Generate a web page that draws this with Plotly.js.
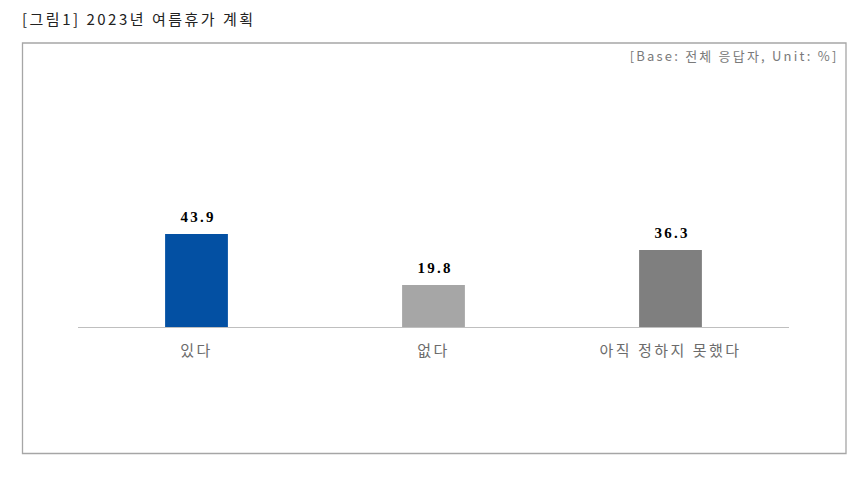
<!DOCTYPE html>
<html>
<head>
<meta charset="utf-8">
<script src="https://cdn.plot.ly/plotly-3.0.1.min.js"></script>
<style>
body{margin:0;background:#fff;}
#chart .gtitle{letter-spacing:2.5px;}
#chart .xtick text{letter-spacing:2.5px;}
#chart .annotation-text{letter-spacing:2.2px;}
</style>
</head>
<body>
<div id="chart" style="width:865px;height:479px;"></div>
<script>
// 2023 summer vacation plan survey
var categories = ['있다', '없다', '아직 정하지 못했다'];
var shares = [43.9, 19.8, 36.3];

var barColors = ['#0350A3', '#A6A6A6', '#7F7F7F'];

var plan_bars = {
  x: categories,
  y: shares,
  type: 'bar',
  marker: {color: barColors},
  hoverinfo: 'skip'
};

// value labels sit a bit higher than plotly's outside text, so use annotations
var valueLabels = categories.map(function(c, i){
  return {
    x: c, y: shares[i],
    xref: 'x', yref: 'y',
    text: shares[i].toFixed(1),
    showarrow: false,
    yanchor: 'bottom',
    yshift: 7,
    xshift: 1,
    font: {family: 'Liberation Serif, serif', size: 15, color: '#000', weight: 'bold'}
  };
});

var layout = {
  width: 865,
  height: 479,
  margin: {l: 78, r: 76, t: 115, b: 152},
  paper_bgcolor: '#fff',
  plot_bgcolor: '#fff',
  bargap: 0.735,
  showlegend: false,
  title: {
    text: '[그림1] 2023년 여름휴가 계획',
    xref: 'container', yref: 'container',
    x: 22 / 865, xanchor: 'left',
    y: 1 - 20 / 479, yanchor: 'middle',
    font: {family: 'Noto Sans CJK KR, sans-serif', size: 15, color: '#222'}
  },
  xaxis: {
    showline: true,
    linecolor: '#BFBFBF',
    linewidth: 1,
    ticks: 'outside',
    ticklen: 10,
    tickcolor: 'rgba(0,0,0,0)',
    tickfont: {family: 'Noto Sans CJK KR, sans-serif', size: 15, color: '#6b6b6b'},
    fixedrange: true
  },
  yaxis: {
    range: [0, 100],
    visible: false,
    showgrid: false,
    zeroline: false,
    fixedrange: true
  },
  annotations: [{
    text: '[Base: 전체 응답자, Unit: %]',
    xref: 'paper', yref: 'paper',
    x: (630 - 78) / 711, xanchor: 'left',
    xshift: 23,
    y: (327 - 56) / 212, yanchor: 'middle',
    showarrow: false,
    font: {family: 'Noto Sans CJK KR, sans-serif', size: 13, color: '#7a7a7a'}
  }].concat(valueLabels),
  shapes: [{
    type: 'rect',
    xref: 'paper', yref: 'paper',
    x0: (22.5 - 78) / 711, x1: (846 - 78) / 711,
    y0: (327 - 453.5) / 212, y1: (327 - 43) / 212,
    line: {color: '#A6A6A6', width: 1.3},
    fillcolor: 'rgba(0,0,0,0)'
  }]
};

Plotly.newPlot('chart', [plan_bars], layout, {displayModeBar: false, staticPlot: true});
</script>
</body>
</html>
